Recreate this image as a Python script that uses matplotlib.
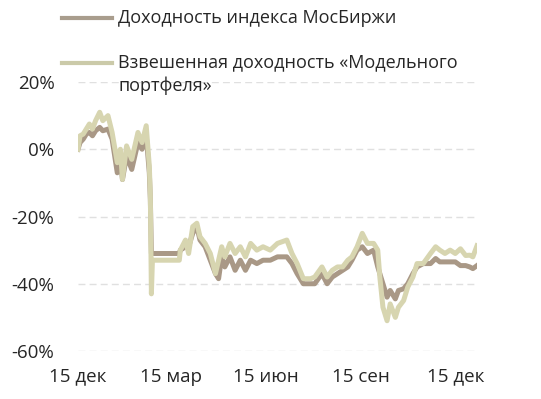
import matplotlib
matplotlib.use("Agg")
import matplotlib.pyplot as plt
from matplotlib.lines import Line2D
import matplotlib.transforms as mtransforms
import pandas as pd

plt.rcParams['font.family'] = ['Open Sans', 'DejaVu Sans']

# days after 15 Dec 2021
days = [0, 2, 5, 8, 11, 14, 17, 21, 24, 29, 33, 38, 41, 43, 47, 52, 58, 62, 66,
        69, 70, 71, 72, 98, 99, 104, 107, 111, 115, 118, 123, 128, 133, 136, 139,
        142, 147, 152, 157, 162, 167, 173, 179, 186, 193, 202, 207, 212, 218, 225,
        229, 236, 241, 246, 251, 256, 261, 265, 270, 275, 280, 286, 290, 292, 295,
        299, 302, 307, 310, 315, 319, 324, 328, 334, 341, 346, 350, 355, 360, 365,
        370, 375, 379, 382, 386]

# доходность индекса МосБиржи, %
index_ret = [0, 2, 3, 4.5, 5, 4, 5.5, 6.5, 5.5, 6, 3, -7, -3, -9, -2, -6, 2, 0, 4,
             -7, -15, -31, -31, -31, -30, -29, -29, -25, -23, -27, -29, -33, -37, -38.5, -32,
             -35, -32, -36, -33, -36, -33, -34, -33, -33, -32, -32, -34, -37, -40, -40,
             -40, -37, -40, -38, -37, -36, -35, -33, -30, -29, -31, -30, -35, -37, -40,
             -44, -42, -44.5, -42, -41.5, -40, -37, -35, -34, -34, -32.5, -33.5, -33.5, -33.5, -33.5,
             -34.6, -34.6, -35, -35.5, -34.6]

# взвешенная доходность «Модельного портфеля», %
model_ret = [0, 4, 4.5, 6, 7.5, 6, 8.5, 11, 8.5, 10, 5, -4, 0, -9, 1, -3, 5, 2, 7,
             -5, -14, -43, -33, -33, -30, -27, -31, -23, -22, -26, -28, -31, -37, -33, -29,
             -32, -28, -31, -29, -32, -28, -30, -29, -30, -28, -27, -31, -34, -38.5, -38.5,
             -38, -35, -38, -36, -35, -35, -33, -32, -29, -25, -28, -28, -30, -38, -47,
             -51, -46, -50, -47, -45, -41, -38, -34, -34, -31, -29, -30, -31, -30, -31,
             -29.6, -31.6, -31.5, -32, -28.7]

y_ticks = [-60, -40, -20, 0, 20]
x_tick_dates = ['2021-12-15', '2022-03-15', '2022-06-15', '2022-09-15', '2022-12-15']
x_tick_labels = ['15 дек', '15 мар', '15 июн', '15 сен', '15 дек']

start = pd.Timestamp('2021-12-15')
dates = start + pd.to_timedelta(days, unit='D')

text_color = '#262626'
index_color = '#a99886'
model_color = '#d7d5b0'

fig = plt.figure(figsize=(5.41, 3.99), dpi=100)
ax = fig.add_axes([78 / 541, 1 - 351 / 399, 399 / 541, 269 / 399])

ax.plot(dates, index_ret, color=index_color, linewidth=3.6, solid_joinstyle='round')
ax.plot(dates, model_ret, color=model_color, linewidth=3.6, solid_joinstyle='round')

ax.set_ylim(-60, 20)
ax.set_xlim(start, start + pd.Timedelta(days=days[-1]))
ax.set_yticks(y_ticks)
ax.set_yticklabels([f'{v}%' for v in y_ticks])
ax.set_xticks(pd.to_datetime(x_tick_dates))
ax.set_xticklabels(x_tick_labels)

ax.grid(axis='y', color='#e0e0e0', linestyle=(0, (5, 3)), linewidth=1)
ax.set_axisbelow(True)
for s in ax.spines.values():
    s.set_visible(False)
ax.tick_params(axis='both', length=0, labelsize=13.5, colors=text_color)
ax.tick_params(axis='y', pad=17)
ax.tick_params(axis='x', pad=12)

# legend, drawn above the plot
fig.add_artist(Line2D([62 / 541, 112 / 541], [1 - 18 / 399] * 2, color='#a99d8d',
                      linewidth=3))
fig.add_artist(Line2D([62 / 541, 112 / 541], [1 - 63 / 399] * 2, color='#cbcaa9',
                      linewidth=3))
fig.text(118 / 541, 1 - 18 / 399, 'Доходность индекса МосБиржи', fontsize=13,
         color=text_color, va='center')
shift = fig.transFigure + mtransforms.ScaledTranslation(0, 10 / 100, fig.dpi_scale_trans)
fig.text(118 / 541, 1 - 63 / 399, 'Взвешенная доходность «Модельного\nпортфеля»',
         fontsize=13, color=text_color, va='top', linespacing=1.35, transform=shift)

fig.savefig('out.png', dpi=100)
